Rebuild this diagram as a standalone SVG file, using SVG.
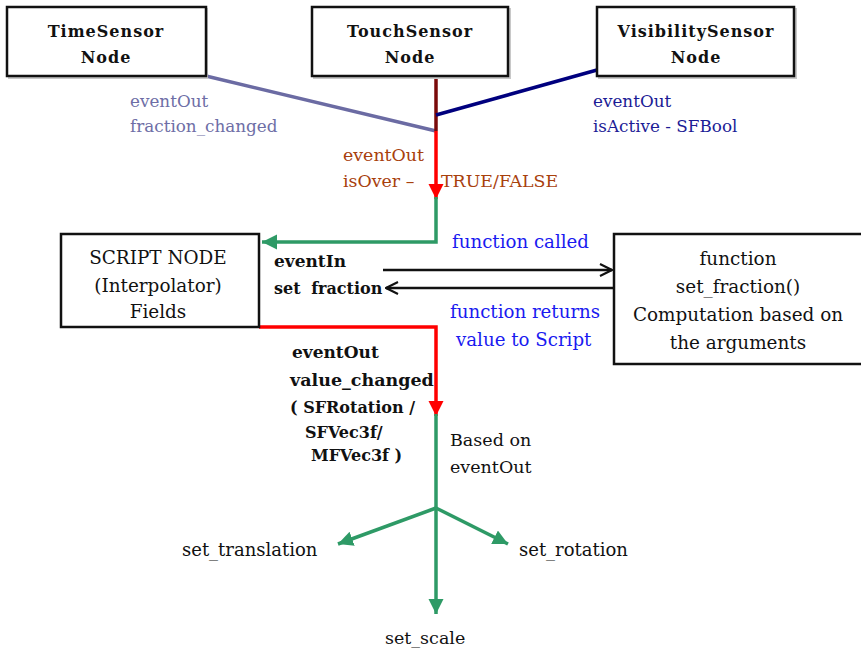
<svg xmlns="http://www.w3.org/2000/svg" width="861" height="649" viewBox="0 0 861 649">
<defs>
<style>
text{font-family:"DejaVu Serif","Liberation Serif",serif;font-size:17.5px;fill:#111;}
.box{fill:#fff;stroke:#111;stroke-width:2.5;}
.shadow{fill:none;stroke:#c8c8c8;stroke-width:2;}
.title{font-weight:bold;font-size:16px;letter-spacing:1px;text-anchor:middle;}
.mid{text-anchor:middle;font-size:18.4px;}
.b{font-weight:bold;font-size:16px;}
.slate{fill:#6E6EA6;font-size:16.8px;}
.navy{fill:#1C1C96;font-size:16.8px;}
.brown{fill:#A8400C;font-size:17.4px;}
.blue{fill:#1A1AF0;font-size:18.2px;}
.green{stroke:#2E9A66;stroke-width:3.5;fill:none;}
.red{stroke:#FF0000;stroke-width:3.5;fill:none;}
.blk{stroke:#111;stroke-width:2.5;fill:none;}
</style>
<marker id="ar" viewBox="0 0 10 10" refX="10" refY="5" markerWidth="4.3" markerHeight="4.3" markerUnits="strokeWidth" orient="auto"><path d="M0,0 L10,5 L0,10 Z" fill="#FF0000"/></marker>
<marker id="ag" viewBox="0 0 10 10" refX="10" refY="5" markerWidth="4.3" markerHeight="4.3" markerUnits="strokeWidth" orient="auto"><path d="M0,0 L10,5 L0,10 Z" fill="#2E9A66"/></marker>
<marker id="ab" viewBox="0 0 10 10" refX="9" refY="5" markerWidth="6" markerHeight="6" markerUnits="strokeWidth" orient="auto"><path d="M1,1 L9,5 L1,9" fill="none" stroke="#111" stroke-width="1.4"/></marker>
</defs>
<rect width="861" height="649" fill="#fff"/>

<g id="connectors">
<line x1="206" y1="76" x2="436" y2="131" stroke="#6B6BA3" stroke-width="3.5"/>
<line x1="436" y1="77" x2="436" y2="131" stroke="#7A0A0A" stroke-width="3.5"/>
<line x1="597" y1="70" x2="436" y2="115" stroke="#00007E" stroke-width="3.5"/>
<line x1="436" y1="131" x2="436" y2="199" class="red" marker-end="url(#ar)"/>
<polyline points="436,197 436,242 262,242" class="green" marker-end="url(#ag)"/>
<line x1="383" y1="270" x2="612" y2="270" class="blk" marker-end="url(#ab)"/>
<line x1="614" y1="288" x2="386" y2="288" class="blk" marker-end="url(#ab)"/>
<polyline points="259,327 436,327 436,416" class="red" marker-end="url(#ar)"/>
<polyline points="436,414 436,508" class="green"/>
<line x1="436" y1="508" x2="436" y2="614" class="green" marker-end="url(#ag)"/>
<line x1="436" y1="508" x2="338" y2="544" class="green" marker-end="url(#ag)"/>
<line x1="436" y1="508" x2="508" y2="544" class="green" marker-end="url(#ag)"/>
</g>

<g id="timesensor">
<rect x="9" y="9" width="198" height="69" class="shadow"/>
<rect x="7" y="7" width="199" height="69" class="box"/>
<text x="106" y="37" class="title">TimeSensor</text>
<text x="106" y="63" class="title">Node</text>
</g>
<g id="touchsensor">
<rect x="314" y="9" width="196" height="69" class="shadow"/>
<rect x="312" y="7" width="196" height="69" class="box"/>
<text x="410" y="37" class="title">TouchSensor</text>
<text x="410" y="63" class="title">Node</text>
</g>
<g id="visibilitysensor">
<rect x="599" y="9" width="197" height="69" class="shadow"/>
<rect x="597" y="7" width="197" height="69" class="box"/>
<text x="696" y="37" class="title">VisibilitySensor</text>
<text x="696" y="63" class="title">Node</text>
</g>
<g id="scriptnode">
<rect x="61" y="234" width="198" height="93" class="box"/>
<text x="158" y="264" class="mid">SCRIPT NODE</text>
<text x="158" y="292" class="mid">(Interpolator)</text>
<text x="158" y="318" class="mid">Fields</text>
</g>
<g id="functionbox">
<rect x="614" y="234" width="260" height="130" class="box"/>
<text x="738" y="265" class="mid">function</text>
<text x="738" y="293" class="mid">set_fraction()</text>
<text x="738" y="321" class="mid">Computation based on</text>
<text x="738" y="349" class="mid">the arguments</text>
</g>

<g id="labels">
<text x="130" y="107" class="slate">eventOut</text>
<text x="130" y="132" class="slate">fraction_changed</text>
<text x="593" y="107" class="navy">eventOut</text>
<text x="593" y="132" class="navy">isActive - SFBool</text>
<text x="343" y="161" class="brown">eventOut</text>
<text x="343" y="187" class="brown">isOver –</text>
<text x="441" y="187" class="brown">TRUE/FALSE</text>
<text x="452" y="248" class="blue">function called</text>
<text x="450" y="318" class="blue">function returns</text>
<text x="456" y="346" class="blue">value to Script</text>
<text x="274" y="267" class="b" style="font-size:17px">eventIn</text>
<text x="274" y="294" class="b" word-spacing="5">set fraction</text>
<text x="292" y="358" class="b" style="font-size:17px">eventOut</text>
<text x="290" y="386" class="b" style="font-size:17.5px">value_changed</text>
<text x="290" y="413" class="b">( SFRotation /</text>
<text x="305" y="438" class="b">SFVec3f/</text>
<text x="311" y="461" class="b">MFVec3f )</text>
<text x="450" y="446">Based on</text>
<text x="450" y="473">eventOut</text>
<text x="182" y="556" style="font-size:18px">set_translation</text>
<text x="519" y="556" style="font-size:18px">set_rotation</text>
<text x="385" y="644">set_scale</text>
</g>
</svg>
